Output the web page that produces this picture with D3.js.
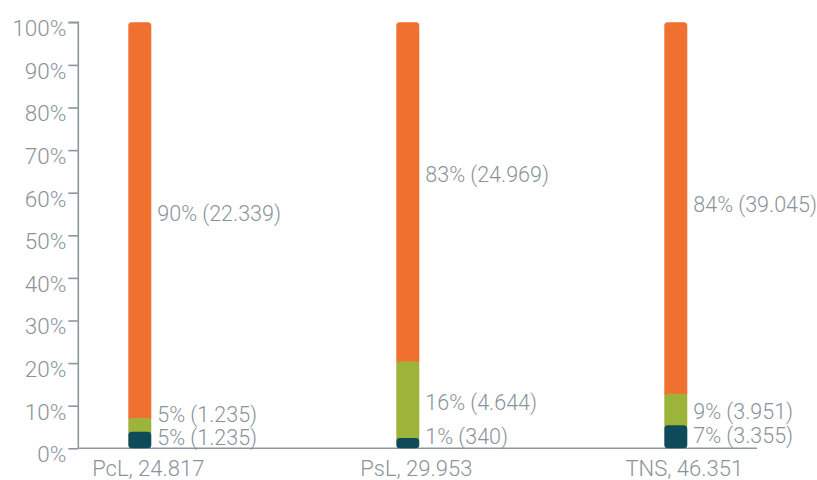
<!DOCTYPE html>
<html><head><meta charset="utf-8">
<script src="https://cdn.jsdelivr.net/npm/d3@7/dist/d3.min.js"></script>
<style>
html,body{margin:0;padding:0;background:#fff;}
svg text{font-family:Roboto,"Liberation Sans",sans-serif;font-weight:300;fill:#8a939b;}
</style></head>
<body><svg id="chart" width="817" height="480"></svg>
<script>
// ---- data ----
const categories = ["PcL", "PsL", "TNS"];
const totals = ["24.817", "29.953", "46.351"];
// bar segment heights as drawn (percent of bar)
const darkShare = [3.9, 2.4, 5.4];
const greenShare = [3.2, 18.0, 7.4];
const orangeShare = [92.9, 79.6, 87.2];
// label texts
const darkPct = [5, 1, 7];
const darkCount = ["1.235", "340", "3.355"];
const greenPct = [5, 16, 9];
const greenCount = ["1.235", "4.644", "3.951"];
const orangePct = [90, 83, 84];
const orangeCount = ["22.339", "24.969", "39.045"];
const yTicks = [0, 10, 20, 30, 40, 50, 60, 70, 80, 90, 100];

// ---- layout ----
const colors = {dark: "#0e4a5a", green: "#9db43a", orange: "#f07030"};
const labelAnchor = { // baseline positions of labels, in y-domain units
  orange: [53.3, 62.6, 55.5],
  green: [6.2, 9.0, 6.8],
  dark: [0.8, 1.0, 1.2]
};
const barW = 23;
const svg = d3.select("#chart");
const x = d3.scalePoint().domain(categories).range([139.8, 675.8]);
const y = d3.scaleLinear().domain([0, 100]).range([448.3, 22.3]);

// y axis
const yAxis = d3.axisLeft(y).tickValues(yTicks).tickSize(10).tickPadding(2)
  .tickFormat(d => d + "%");
const ga = svg.append("g").attr("transform", "translate(78.3,0)").call(yAxis);
ga.select(".domain").attr("stroke", "#8e979f").attr("stroke-width", 1.6)
  .attr("d", `M-10,${y(100)}H0V${y(0)}`);
ga.selectAll(".tick line").attr("stroke", "#8e979f").attr("stroke-width", 1.6);
ga.selectAll(".tick text").attr("dy", null).attr("y", 13.4)
  .style("font-size", "22.5px").attr("fill", "#8a939b")
  .style("font-family", 'Roboto,"Liberation Sans",sans-serif').style("font-weight", 300);

// baseline
svg.append("line").attr("x1", 78.3).attr("x2", 757).attr("y1", y(0)).attr("y2", y(0))
  .attr("stroke", "#8e979f").attr("stroke-width", 1.6);

// bars
const rows = categories.map((c, i) => {
  const d0 = darkShare[i], g0 = greenShare[i], o0 = orangeShare[i];
  return {c, i, segs: [
    {k: "orange", lo: d0 + g0, hi: d0 + g0 + o0},
    {k: "green", lo: d0, hi: d0 + g0},
    {k: "dark", lo: 0, hi: d0}
  ]};
});
const gb = svg.append("g");
rows.forEach(r => {
  r.segs.forEach(s => {
    const ext = s.lo > 0 ? 4 : 0;
    gb.append("rect")
      .attr("x", x(r.c) - barW / 2)
      .attr("width", barW)
      .attr("y", y(s.hi))
      .attr("height", y(s.lo) - y(s.hi) + ext)
      .attr("rx", 3.5).attr("ry", 3.5)
      .attr("fill", colors[s.k]);
  });
});

// labels
const gl = svg.append("g");
categories.forEach((c, i) => {
  const lx = x(c) + barW / 2 + 6;
  [["orange", orangePct, orangeCount], ["green", greenPct, greenCount], ["dark", darkPct, darkCount]]
    .forEach(([k, p, n]) => {
      gl.append("text").attr("x", lx).attr("y", y(labelAnchor[k][i]))
        .style("font-size", "21.5px")
        .text(`${p[i]}% (${n[i]})`);
    });
  gl.append("text").attr("x", x(c) + 8.5).attr("y", 475.5)
    .attr("text-anchor", "middle").style("font-size", "22px")
    .text(`${c}, ${totals[i]}`);
});
</script></body></html>
